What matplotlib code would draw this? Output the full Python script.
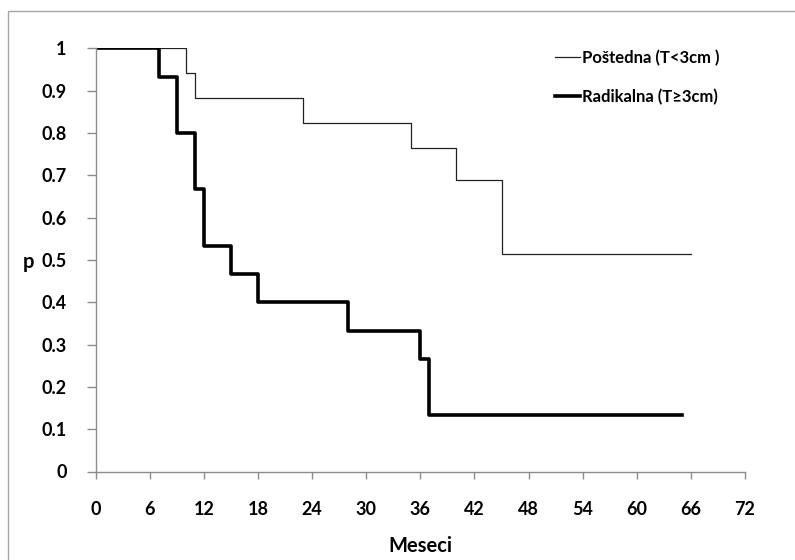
import matplotlib.pyplot as plt
import matplotlib.patches as patches

# Kaplan-Meier data
posted_t = [0, 10, 11, 23, 35, 40, 45, 66]
posted_p = [1.0, 0.941, 0.882, 0.824, 0.765, 0.688, 0.515, 0.515]
radik_t = [0, 7, 9, 11, 12, 15, 18, 28, 36, 37, 65]
radik_p = [1.0, 0.933, 0.8, 0.667, 0.533, 0.467, 0.4, 0.333, 0.267, 0.133, 0.133]

x_ticks = list(range(0, 73, 6))
y_ticks = [0, 0.1, 0.2, 0.3, 0.4, 0.5, 0.6, 0.7, 0.8, 0.9, 1]
y_tick_labels = ['0', '0.1', '0.2', '0.3', '0.4', '0.5', '0.6', '0.7', '0.8', '0.9', '1']

plt.rcParams['font.family'] = ['Lato', 'DejaVu Sans']
W, H = 795, 560
fig = plt.figure(figsize=(W / 100, H / 100), dpi=100)

# outer frame like the excel chart area
fig.patches.append(patches.Rectangle((8 / W, -0.1), 1.2, (H - 11) / H + 0.1,
                                     transform=fig.transFigure, fill=False,
                                     edgecolor='#a6a6a6', linewidth=1))

ax = fig.add_axes([95.7 / W, (H - 471.5) / H, (745 - 95.7) / W, (471.5 - 48.3) / H])
ax.step(posted_t, posted_p, where='post', color='#222222', linewidth=0.9,
        label='Poštedna (T<3cm )')
ax.step(radik_t, radik_p, where='post', color='black', linewidth=2.6,
        label='Radikalna (T≥3cm)')

ax.set_xlim(0, 72)
ax.set_ylim(0, 1)
ax.set_xticks(x_ticks)
ax.set_yticks(y_ticks)
ax.set_yticklabels(y_tick_labels)
for side in ['top', 'right']:
    ax.spines[side].set_visible(False)
for side in ['left', 'bottom']:
    ax.spines[side].set_color('#8c8c8c')
    ax.spines[side].set_linewidth(1)
ax.tick_params(axis='x', length=5, width=1, color='#8c8c8c', pad=16.5,
               labelsize=13)
ax.tick_params(axis='y', length=6.5, width=1, color='#8c8c8c', pad=14.5,
               labelsize=13)
for lbl in ax.get_xticklabels() + ax.get_yticklabels():
    lbl.set_fontweight('bold')

leg = ax.legend(loc='upper left', bbox_to_anchor=((555 - 95.7) / 649.3, 0.996),
                frameon=False, borderpad=0, borderaxespad=0, handlelength=1.5,
                handletextpad=0.15, labelspacing=1.35,
                prop={'size': 12, 'weight': 'bold'})

fig.text(28 / W, 1 - 262 / H, 'p', ha='center', va='center', fontsize=14.5,
         fontweight='bold')
fig.text(420 / W, 1 - 546 / H, 'Meseci', ha='center', va='center',
         fontsize=14.5, fontweight='bold')

fig.savefig('out.png', dpi=100)
